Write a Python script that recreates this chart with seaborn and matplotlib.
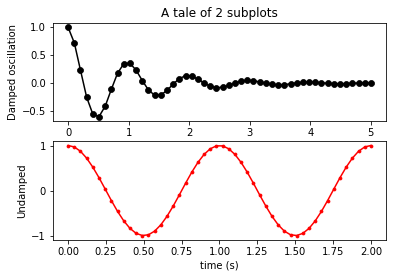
import matplotlib
matplotlib.use("Agg")
import matplotlib.pyplot as plt
import seaborn as sns
import numpy as np

# Damped oscillation (top), 50 samples over 0..5 s
x_damped = [i * 5 / 49 for i in range(50)]
y_damped = [1.000, 0.7237, 0.2320, -0.2542, -0.5567, -0.5993, -0.4136, -0.1089, 0.1789, 0.3473,
            0.3575, 0.2338, 0.0469, -0.1229, -0.2159, -0.2124, -0.1309, -0.0170, 0.0826, 0.1334,
            0.1257, 0.0731, 0.0034, -0.0547, -0.0820, -0.0741, -0.0403, 0.0020, 0.0358, 0.0502,
            0.0434, 0.0219, -0.0037, -0.0232, -0.0306, -0.0253, -0.0118, 0.0037, 0.0149, 0.0185,
            0.0147, 0.0062, -0.0031, -0.0095, -0.0112, -0.0085, -0.0032, 0.0024, 0.0060, 0.0067]

# Undamped oscillation (bottom), 50 samples over 0..2 s
x_undamped = [i * 2 / 49 for i in range(50)]
y_undamped_half = [1.0, 0.9673, 0.8713, 0.7183, 0.5183, 0.2846, 0.0320, -0.2225, -0.4629, -0.6723,
                   -0.8384, -0.9497, -0.9979, -0.9819, -0.9010, -0.7614, -0.5721, -0.3453, -0.0960, 0.1596,
                   0.4048, 0.6235, 0.8014, 0.9269, 0.9918]
y_undamped = y_undamped_half + y_undamped_half[::-1]

title = "A tale of 2 subplots"
ylabel_top = "Damped oscillation"
ylabel_bottom = "Undamped"
xlabel_bottom = "time (s)"

dpi = 72
fig = plt.figure(figsize=(394 / dpi, 278 / dpi), dpi=dpi)
ax1 = fig.add_axes([53 / 394, 1 - 121 / 278, (386 - 53) / 394, (121 - 23) / 278])
ax2 = fig.add_axes([53 / 394, 1 - 240 / 278, (386 - 53) / 394, (240 - 141) / 278])

sns.lineplot(x=x_damped, y=y_damped, ax=ax1, color="black", marker="o",
             markeredgecolor="black", markersize=6, linewidth=1.5, sort=False)
ax1.set_title(title)
ax1.set_ylabel(ylabel_top)

sns.lineplot(x=x_undamped, y=y_undamped, ax=ax2, color="red", marker=".",
             markeredgecolor="red", markersize=6, linewidth=1.5, sort=False)
ax2.set_xlabel(xlabel_bottom)
ax2.set_ylabel(ylabel_bottom)
ax2.set_yticks([-1, 0, 1])

fig.savefig("out.png", dpi=dpi)
